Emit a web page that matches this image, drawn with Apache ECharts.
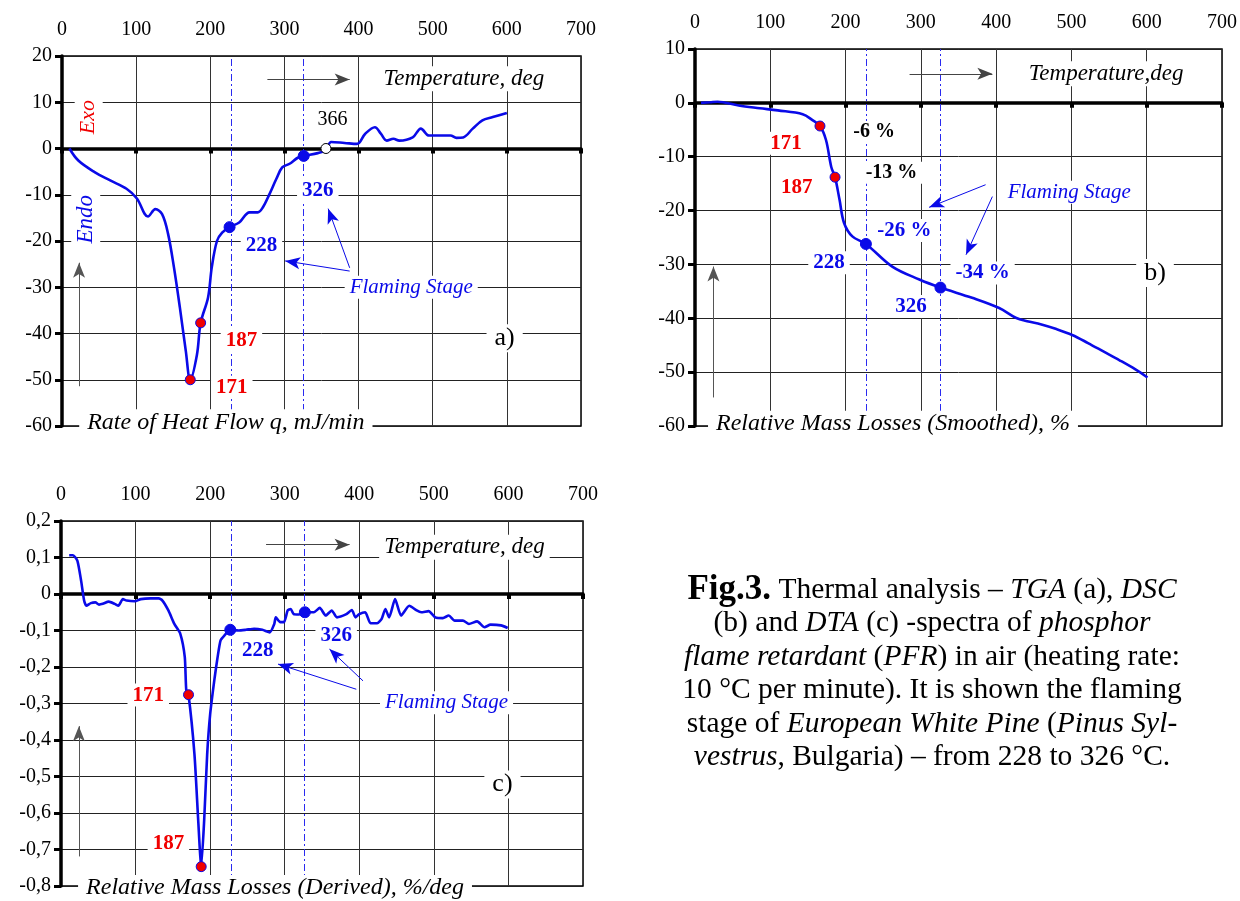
<!DOCTYPE html>
<html>
<head>
<meta charset="utf-8">
<script src="https://cdn.jsdelivr.net/npm/echarts@6/dist/echarts.min.js"></script>
<style>
  html, body { margin: 0; padding: 0; background: #fff; }
  #chart { width: 1240px; height: 901px; }
</style>
</head>
<body>
<div id="chart"></div>
<script>
  // a) rate of heat flow, mJ/min
  var tempA = [10, 22, 44, 65, 87, 101, 116, 126, 135, 143, 151, 159, 167, 173, 182, 187, 197, 202, 209, 216, 226, 239, 253, 264, 271, 280, 289, 297, 307, 318, 326, 345, 356, 363, 381, 398, 409, 422, 430, 438, 447, 455, 473, 484, 495, 505, 524, 532, 541, 554, 567, 581, 600];
  var heatFlowA = [0, -2.6, -5.1, -6.9, -8.7, -10.8, -14.7, -13.1, -14.2, -18.4, -25.7, -34.4, -43.8, -50, -44.6, -37.7, -32.2, -25.7, -20, -18.2, -17, -16, -13.8, -13.8, -12.7, -9.8, -6.6, -4.1, -3.3, -2.0, -1.6, -1.0, -0.3, 1.4, 1.2, 1.0, 3.2, 4.6, 3.2, 1.7, 2.1, 1.7, 2.4, 4.3, 2.8, 2.8, 2.8, 2.3, 2.4, 4.3, 6.1, 6.8, 7.7];
  var redTempA = [173, 187];
  var redValA = [-50, -37.7];
  var blueTempA = [226, 326];
  var blueValA = [-17, -1.6];
  var openTempA = [356];
  var openValA = [0];

  // b) relative mass losses (smoothed), %
  var tempB = [8, 20, 30, 58, 86, 110, 143, 156, 166, 174, 181, 186, 192, 198, 209, 227, 262, 298, 326, 368, 404, 426, 443, 459, 480, 501, 522, 543, 564, 585, 601];
  var massLossB = [0, 0.1, 0.2, -0.5, -1.0, -1.4, -2.1, -3.2, -4.3, -6.9, -11.9, -13.8, -18, -22.3, -24.8, -26.2, -30.4, -32.8, -34.3, -36.2, -38.1, -39.9, -40.6, -41.1, -42, -43.1, -44.6, -46.2, -47.8, -49.5, -51];
  var redTempB = [166, 186];
  var redValB = [-4.3, -13.8];
  var blueTempB = [227, 326];
  var blueValB = [-26.2, -34.3];

  // c) relative mass losses (derived), %/deg
  var tempC = [11, 16, 22, 27, 31, 34, 40, 46, 51, 56, 64, 72, 77, 83, 88, 99, 107, 120, 131, 136, 144, 152, 160, 166, 168, 171, 179, 184, 188, 192, 196, 200, 206, 210, 214, 219, 227, 238, 248, 259, 270, 280, 286, 288, 294, 299, 304, 308, 312, 319, 327, 339, 347, 355, 363, 370, 382, 390, 395, 400, 408, 415, 424, 430, 435, 440, 448, 456, 467, 477, 483, 493, 502, 512, 520, 528, 539, 547, 558, 568, 576, 590, 599];
  var dMassC = [0.106, 0.106, 0.091, 0.036, -0.018, -0.032, -0.025, -0.023, -0.029, -0.027, -0.021, -0.027, -0.032, -0.014, -0.018, -0.02, -0.014, -0.012, -0.012, -0.018, -0.045, -0.082, -0.109, -0.173, -0.264, -0.276, -0.44, -0.62, -0.747, -0.62, -0.44, -0.33, -0.23, -0.173, -0.127, -0.114, -0.098, -0.1, -0.098, -0.095, -0.098, -0.105, -0.082, -0.064, -0.077, -0.077, -0.045, -0.041, -0.055, -0.056, -0.05, -0.05, -0.038, -0.059, -0.045, -0.064, -0.056, -0.044, -0.064, -0.055, -0.05, -0.08, -0.08, -0.068, -0.041, -0.064, -0.014, -0.059, -0.032, -0.045, -0.05, -0.047, -0.064, -0.066, -0.059, -0.073, -0.073, -0.082, -0.075, -0.091, -0.084, -0.086, -0.093];
  var redTempC = [171, 188];
  var redValC = [-0.276, -0.747];
  var blueTempC = [227, 327];
  var blueValC = [-0.098, -0.05];

  var SERIF = 'Liberation Serif';
  var BLUE = '#0a0ae8';
  var RED = '#f00000';

  function zip(xs, ys) {
    return xs.map(function (x, i) { return [x, ys[i]]; });
  }

  // text box with white background, placed in data coords
  function note(text, x, y, st) {
    var label = {
      show: true,
      position: 'inside',
      formatter: text,
      fontFamily: SERIF,
      fontSize: st.size || 20,
      fontStyle: st.italic ? 'italic' : 'normal',
      fontWeight: st.bold ? 'bold' : 'normal',
      color: st.color || '#000',
      backgroundColor: '#fff',
      padding: st.pad || [1, 5]
    };
    if (st.rotate) label.rotate = st.rotate;
    if (st.offset) label.offset = st.offset;
    return { coord: [x, y], symbol: 'circle', symbolSize: 1, itemStyle: { color: 'transparent' }, label: label };
  }

  function arrow(x1, y1, x2, y2, color) {
    return [
      { coord: [x1, y1], symbol: 'none', lineStyle: { color: color, width: 1, type: 'solid' } },
      { coord: [x2, y2], symbol: 'arrow', symbolSize: [9, 15] }
    ];
  }

  function vline(x) {
    return { xAxis: x, symbol: 'none', lineStyle: { color: '#2a2af0', width: 1, type: [7, 3, 2, 3] } };
  }

  function topAxis(gi) {
    return {
      gridIndex: gi, type: 'value', position: 'top', min: 0, max: 700, interval: 100,
      axisLine: { show: false, onZero: false }, axisTick: { show: false },
      axisLabel: { fontFamily: SERIF, fontSize: 20, color: '#000', margin: 16 },
      splitLine: { show: true, lineStyle: { color: '#333', width: 1 } }
    };
  }

  function zeroAxis(gi) {
    return {
      gridIndex: gi, type: 'value', position: 'bottom', min: 0, max: 700, interval: 100,
      axisLine: { show: true, onZero: true, lineStyle: { color: '#000', width: 3.5 } },
      axisTick: { show: true, length: 5, lineStyle: { color: '#000', width: 4 } },
      axisLabel: { show: false }, splitLine: { show: false }
    };
  }

  function yAxis(gi, min, max, step, fmt) {
    return {
      gridIndex: gi, type: 'value', min: min, max: max, interval: step,
      axisLine: { show: true, onZero: false, lineStyle: { color: '#000', width: 3.5 } },
      axisTick: { show: true, length: 7, lineStyle: { color: '#000', width: 3 } },
      axisLabel: { fontFamily: SERIF, fontSize: 20, color: '#000', margin: 10, formatter: fmt },
      splitLine: { show: true, lineStyle: { color: '#222', width: 1 } }
    };
  }

  function curve(gi, data, smooth, notes, lines) {
    return {
      type: 'line', xAxisIndex: gi * 2, yAxisIndex: gi, data: data,
      smooth: smooth, showSymbol: false, clip: false, z: 3,
      lineStyle: { color: BLUE, width: 2.6 },
      markLine: { silent: true, z: 4, symbol: 'none', label: { show: false }, data: lines, animation: false },
      markPoint: { silent: true, z: 5, data: notes, animation: false }
    };
  }

  function dots(gi, data, fill, border, size) {
    return {
      type: 'scatter', xAxisIndex: gi * 2, yAxisIndex: gi, data: data, z: 6,
      symbolSize: size, itemStyle: { color: fill, borderColor: border, borderWidth: 1, opacity: 1 }
    };
  }

  var ital = { italic: true, size: 23 };
  var flame = { italic: true, size: 21, color: BLUE };
  var bBlue = { bold: true, size: 21, color: BLUE };
  var bRed = { bold: true, size: 21, color: RED };
  var bBlack = { bold: true, size: 20 };
  var panel = { size: 26, pad: [1, 8] };
  var axTitle = { italic: true, size: 24, pad: [1, 8] };

  var notesA = [
    note('Temperature, deg', 542, 15.1, ital),
    note('Exo', 36, 6.8, { italic: true, size: 22, color: RED, rotate: 90, pad: [3, 3] }),
    note('Endo', 32, -15.3, { italic: true, size: 23, color: BLUE, rotate: 90, pad: [3, 3] }),
    note('366', 365, 6.2, { size: 20 }),
    note('326', 345, -9, bBlue),
    note('228', 269, -21, bBlue),
    note('Flaming Stage', 471, -30, flame),
    note('187', 242, -41.5, bRed),
    note('171', 229, -51.6, bRed),
    note('a)', 597, -41, panel),
    note('Rate of Heat Flow q, mJ/min', 221, -59.2, axTitle)
  ];
  var linesA = [
    vline(228), vline(326),
    arrow(277, 14.9, 388, 14.9, '#444'),
    arrow(23, -51.4, 23, -24.7, '#555'),
    arrow(388, -26.5, 301, -24.3, BLUE),
    arrow(388, -25.8, 359, -13, BLUE)
  ];

  var notesB = [
    note('Temperature,deg', 546, 5.4, ital),
    note('171', 121, -7.5, bRed),
    note('187', 135, -15.7, bRed),
    note('-6 %', 238, -5.4, bBlack),
    note('-13 %', 261, -13, bBlack),
    note('-26 %', 278, -23.7, bBlue),
    note('228', 178, -29.7, bBlue),
    note('-34 %', 382, -31.6, bBlue),
    note('326', 287, -37.8, bBlue),
    note('Flaming Stage', 497, -16.6, flame),
    note('b)', 611, -31.6, panel),
    note('Relative Mass Losses (Smoothed), %', 263, -59.6, axTitle)
  ];
  var linesB = [
    vline(228), vline(326),
    arrow(285, 5.4, 395, 5.4, '#444'),
    arrow(24.5, -54.7, 24.5, -30.4, '#555'),
    arrow(386, -15.2, 311, -19.4, BLUE),
    arrow(395, -17.4, 360, -28.2, BLUE)
  ];

  var notesC = [
    note('Temperature, deg', 541, 0.128, ital),
    note('228', 264, -0.156, bBlue),
    note('326', 369, -0.115, bBlue),
    note('Flaming Stage', 517, -0.298, flame),
    note('171', 117, -0.277, bRed),
    note('187', 144, -0.685, bRed),
    note('c)', 592, -0.522, panel),
    note('Relative Mass Losses (Derived), %/deg', 287, -0.8, { italic: true, size: 24, pad: [1, 8], offset: [0, 2] })
  ];
  var linesC = [
    vline(228), vline(326),
    arrow(275, 0.135, 387, 0.135, '#444'),
    arrow(24, -0.719, 24, -0.362, '#555'),
    arrow(396, -0.261, 291, -0.192, BLUE),
    arrow(405, -0.238, 360, -0.151, BLUE)
  ];

  function commaFmt(v) {
    if (Math.abs(v) < 1e-9) return '0';
    return v.toFixed(1).replace('.', ',');
  }

  var caption =
    '{b|Fig.3.}{n| Thermal analysis – }{i|TGA}{n| (a), }{i|DSC}\n' +
    '{n|(b) and }{i|DTA}{n| (c) -spectra of }{i|phosphor}\n' +
    '{i|flame retardant}{n| (}{i|PFR}{n|) in air (heating rate:}\n' +
    '{n|10 °C per minute). It is shown the flaming}\n' +
    '{n|stage of }{i|European White Pine}{n| (}{i|Pinus Syl-}\n' +
    '{i|vestrus}{n|, Bulgaria) – from 228 to 326 °C.}';

  var chart = echarts.init(document.getElementById('chart'), null, { renderer: 'canvas' });
  chart.setOption({
    animation: false,
    backgroundColor: '#fff',
    grid: [
      { left: 62, top: 56, width: 519, height: 370, show: true, borderColor: '#000', borderWidth: 1.5, backgroundColor: 'transparent' },
      { left: 695, top: 49, width: 528, height: 377, show: true, borderColor: '#000', borderWidth: 1.5, backgroundColor: 'transparent' },
      { left: 61, top: 521, width: 522, height: 365, show: true, borderColor: '#000', borderWidth: 1.5, backgroundColor: 'transparent' }
    ],
    xAxis: [topAxis(0), zeroAxis(0), topAxis(1), zeroAxis(1), topAxis(2), zeroAxis(2)],
    yAxis: [
      yAxis(0, -60, 20, 10),
      yAxis(1, -60, 10, 10),
      yAxis(2, -0.8, 0.2, 0.1, commaFmt)
    ],
    series: [
      curve(0, zip(tempA, heatFlowA), 0.35, notesA, linesA),
      dots(0, zip(redTempA, redValA), RED, BLUE, 10),
      dots(0, zip(blueTempA, blueValA), BLUE, BLUE, 11),
      dots(0, zip(openTempA, openValA), '#fff', '#000', 10),
      curve(1, zip(tempB, massLossB), 0.35, notesB, linesB),
      dots(1, zip(redTempB, redValB), RED, BLUE, 10),
      dots(1, zip(blueTempB, blueValB), BLUE, BLUE, 11),
      curve(2, zip(tempC, dMassC), 0.2, notesC, linesC),
      dots(2, zip(redTempC, redValC), RED, BLUE, 10),
      dots(2, zip(blueTempC, blueValC), BLUE, BLUE, 11)
    ],
    graphic: [{
      type: 'text',
      x: 932,
      y: 573,
      style: {
        text: caption,
        textAlign: 'center',
        textVerticalAlign: 'top',
        fill: '#000',
        rich: {
          b: { fontFamily: SERIF, fontSize: 35, fontWeight: 'bold', lineHeight: 33.5, align: 'center' },
          n: { fontFamily: SERIF, fontSize: 29.5, lineHeight: 33.5, align: 'center' },
          i: { fontFamily: SERIF, fontSize: 29.5, fontStyle: 'italic', lineHeight: 33.5, align: 'center' }
        }
      }
    }]
  });
</script>
</body>
</html>
